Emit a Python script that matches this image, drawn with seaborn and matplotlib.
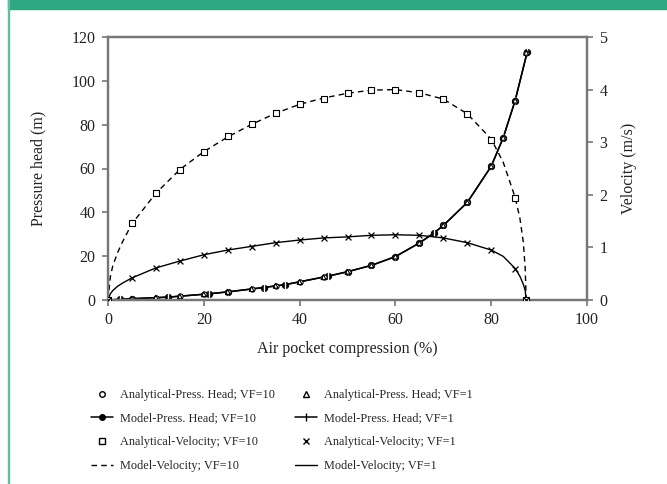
import numpy as np
import seaborn as sns
import matplotlib
matplotlib.use("Agg")
import matplotlib.pyplot as plt
from matplotlib.lines import Line2D
from matplotlib.patches import Rectangle

# analytical points (every 5 % of compression)
x_ana = [0, 5, 10, 15, 20, 25, 30, 35, 40, 45, 50, 55, 60, 65, 70, 75, 80, 82.5, 85, 87.3]
press_ana = [0, 0.6, 1.1, 1.6, 2.6, 3.7, 5.0, 6.5, 8.2, 10.4, 12.9, 15.8, 19.8, 26.0, 34.0, 44.5, 61.0, 74.0, 91.0, 112.8]

x_vel_ana = [0, 5, 10, 15, 20, 25, 30, 35, 40, 45, 50, 55, 60, 65, 70, 75, 80, 85, 87.3]
vel10_ana = [0, 1.47, 2.04, 2.48, 2.82, 3.11, 3.34, 3.55, 3.72, 3.83, 3.93, 3.99, 3.99, 3.93, 3.82, 3.53, 3.05, 1.93, 0]
vel1_ana = [0, 0.42, 0.61, 0.74, 0.86, 0.95, 1.01, 1.09, 1.14, 1.18, 1.20, 1.24, 1.24, 1.24, 1.18, 1.09, 0.95, 0.59, 0]

# model output
x_mod_p = [0, 2.5, 5, 12.5, 21, 25, 32.5, 37, 46, 50, 55, 60, 65, 68, 70, 75, 80, 82.5, 85, 87.5]
press_mod = [0, 0.3, 0.6, 1.3, 2.8, 3.7, 5.7, 7.0, 10.9, 12.9, 15.8, 19.8, 26.0, 30.5, 34.0, 44.5, 61.0, 74.0, 91.0, 113.0]

x_mod_v = [0, 0.5, 1, 2, 3, 5, 10, 15, 20, 25, 30, 35, 40, 45, 50, 55, 60, 65, 70, 75, 80, 82.5, 85, 86, 86.7, 87.1, 87.3]
vel10_mod = [0, 0.45, 0.65, 0.9, 1.1, 1.45, 2.03, 2.48, 2.82, 3.1, 3.34, 3.55, 3.72, 3.84, 3.93, 3.99, 4.0,
             3.94, 3.82, 3.54, 3.06, 2.62, 1.95, 1.55, 1.1, 0.6, 0]
vel1_mod = [0, 0.12, 0.18, 0.26, 0.32, 0.42, 0.61, 0.74, 0.86, 0.95, 1.02, 1.09, 1.14, 1.18, 1.2, 1.23, 1.24,
            1.23, 1.18, 1.09, 0.95, 0.83, 0.6, 0.45, 0.3, 0.18, 0]

sns.set_theme(style="ticks")
plt.rcParams["font.family"] = ["Liberation Serif", "DejaVu Serif"]

W, H = 667, 484
fig = plt.figure(figsize=(W / 100, H / 100), dpi=100)
fig.patches.append(Rectangle((8 / W, 1 - 9 / H), 1, 9 / H, transform=fig.transFigure,
                             color="#2ca882", zorder=0))
fig.patches.append(Rectangle((8 / W, 0), 1.3 / W, 1, transform=fig.transFigure,
                             color="#5cc0a0", zorder=0))

ax = fig.add_axes([108 / W, 1 - 300 / H, (587 - 108) / W, (300 - 37) / H])
ax2 = ax.twinx()

k = "black"
# pressure head (left axis)
sns.lineplot(x=x_mod_p, y=press_mod, ax=ax, color=k, lw=1.1, sort=False, estimator=None,
             marker="o", markersize=4.5, markeredgecolor=k)
sns.lineplot(x=x_mod_p, y=press_mod, ax=ax, color=k, lw=1.1, sort=False, estimator=None,
             marker="|", markersize=6, markeredgewidth=1)
sns.scatterplot(x=x_ana, y=press_ana, ax=ax, marker="o", s=14, facecolor="white",
                edgecolor=k, linewidth=0.8, zorder=3)
sns.scatterplot(x=x_ana, y=press_ana, ax=ax, marker="^", s=12, facecolor="none",
                edgecolor=k, linewidth=0.8, zorder=3)

# velocity (right axis)
sns.lineplot(x=x_mod_v, y=vel10_mod, ax=ax2, color=k, lw=1.0, sort=False, estimator=None,
             linestyle=(0, (4, 3)))
sns.lineplot(x=x_mod_v, y=vel1_mod, ax=ax2, color=k, lw=1.0, sort=False, estimator=None)
sns.scatterplot(x=x_vel_ana, y=vel10_ana, ax=ax2, marker="s", s=22, facecolor="white",
                edgecolor=k, linewidth=0.8, zorder=3)
sns.scatterplot(x=x_vel_ana, y=vel1_ana, ax=ax2, marker="x", s=18, color=k, linewidth=0.9, zorder=3)

ax.set_xlim(0, 100)
ax.set_ylim(0, 120)
ax2.set_ylim(0, 5)
ax.set_xticks(range(0, 101, 20))
ax.set_yticks(range(0, 121, 20))
ax2.set_yticks(range(0, 6))

spine_c = "#777777"
for a in (ax, ax2):
    for s in a.spines.values():
        s.set_color(spine_c)
        s.set_linewidth(1.6)
        s.set_visible(True)
    a.tick_params(direction="out", length=4, width=1.2, color=spine_c, labelsize=11.5,
                  labelcolor="#222222", pad=5)
    a.grid(False)

ax.set_xlabel("Air pocket compression (%)", fontsize=11.5, color="#222222", labelpad=9)
ax.set_ylabel("Pressure head (m)", fontsize=11.5, color="#222222", labelpad=18)
ax2.set_ylabel("Velocity (m/s)", fontsize=11.5, color="#222222", labelpad=10)

handles = [
    Line2D([], [], ls="none", marker="o", ms=4, mfc="white", mec=k),
    Line2D([], [], color=k, lw=1.1, marker="o", ms=4),
    Line2D([], [], ls="none", marker="s", ms=4, mfc="white", mec=k),
    Line2D([], [], color=k, lw=1.0, ls=(0, (4, 3))),
    Line2D([], [], ls="none", marker="^", ms=4, mfc="none", mec=k),
    Line2D([], [], color=k, lw=1.1, marker="|", ms=6),
    Line2D([], [], ls="none", marker="x", ms=4, color=k),
    Line2D([], [], color=k, lw=1.0),
]
labels = [
    "Analytical-Press. Head; VF=10",
    "Model-Press. Head; VF=10",
    "Analytical-Velocity; VF=10",
    "Model-Velocity; VF=10",
    "Analytical-Press. Head; VF=1",
    "Model-Press. Head; VF=1",
    "Analytical-Velocity; VF=1",
    "Model-Velocity; VF=1",
]
fig.legend(handles, labels, ncol=2, frameon=False, fontsize=8.8,
           loc="upper left", bbox_to_anchor=(80 / W, 1 - 378 / H),
           handlelength=1.8, columnspacing=1.6, labelspacing=0.95, handletextpad=0.6)

fig.savefig("out.png", dpi=100)
